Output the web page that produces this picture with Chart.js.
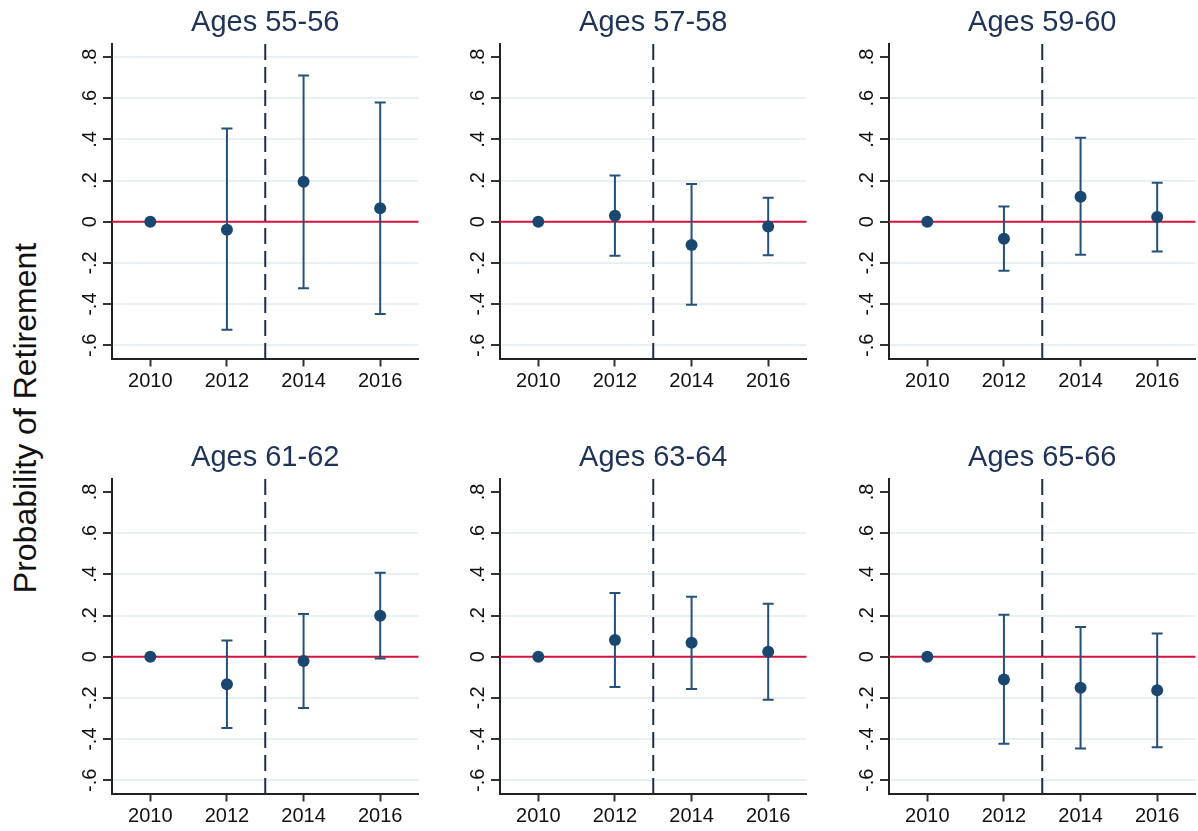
<!DOCTYPE html>
<html>
<head>
<meta charset="utf-8">
<script src="https://cdn.jsdelivr.net/npm/chart.js@4/dist/chart.umd.min.js"></script>
<style>
  html, body { margin: 0; padding: 0; background: #ffffff; }
  body { width: 1198px; height: 831px; position: relative; overflow: hidden; }
  .panel { position: absolute; }
  #ytitle {
    position: absolute; left: 25px; top: 418px;
    transform: translate(-50%, -50%) rotate(-90deg);
    font-family: "Liberation Sans", Arial, sans-serif; font-size: 32px;
    color: #111; white-space: nowrap;
  }
</style>
</head>
<body>
<div id="ytitle">Probability of Retirement</div>

<script>
// Survey waves and axis ticks
const years = [2010, 2012, 2014, 2016];
const yTickValues = [-0.6, -0.4, -0.2, 0, 0.2, 0.4, 0.6, 0.8];
const policyYear = 2013;

const panelTitles = ["Ages 55-56", "Ages 57-58", "Ages 59-60", "Ages 61-62", "Ages 63-64", "Ages 65-66"];

// Point estimates and 95% confidence bounds (2010 is the base wave)
const est_55_56 = [0, -0.039, 0.194, 0.065];
const lo_55_56  = [null, -0.524, -0.323, -0.448];
const hi_55_56  = [null, 0.453, 0.710, 0.579];

const est_57_58 = [0, 0.029, -0.113, -0.023];
const lo_57_58  = [null, -0.165, -0.403, -0.163];
const hi_57_58  = [null, 0.225, 0.183, 0.117];

const est_59_60 = [0, -0.083, 0.121, 0.023];
const lo_59_60  = [null, -0.238, -0.160, -0.144];
const hi_59_60  = [null, 0.074, 0.408, 0.189];

const est_61_62 = [0, -0.134, -0.021, 0.199];
const lo_61_62  = [null, -0.346, -0.249, -0.008];
const hi_61_62  = [null, 0.079, 0.207, 0.408];

const est_63_64 = [0, 0.081, 0.068, 0.024];
const lo_63_64  = [null, -0.147, -0.157, -0.209];
const hi_63_64  = [null, 0.309, 0.291, 0.257];

const est_65_66 = [0, -0.110, -0.150, -0.163];
const lo_65_66  = [null, -0.422, -0.445, -0.439];
const hi_65_66  = [null, 0.204, 0.144, 0.113];

const panelEst = [est_55_56, est_57_58, est_59_60, est_61_62, est_63_64, est_65_66];
const panelLo  = [lo_55_56, lo_57_58, lo_59_60, lo_61_62, lo_63_64, lo_65_66];
const panelHi  = [hi_55_56, hi_57_58, hi_59_60, hi_61_62, hi_63_64, hi_65_66];

// Styling
const FONT = '"Liberation Sans", Arial, sans-serif';
const NAVY = '#1a476f';
const BAR = '#24507a';
const RED = '#d4123e';
const DASH = '#1c2e50';
const GRID = '#e9f0f2';

// Panel placement on the page
const colLeft = [52, 440, 829];
const rowTop = [0, 435];
const CANVAS_W = 374, CANVAS_H = 396;
const Y_AXIS_W = 60, X_AXIS_H = 37.5;

function fmtTick(v) {
  if (Math.abs(v) < 1e-9) return '0';
  return v.toFixed(1).replace('0.', '.');
}

function zeroPadding(s) {
  s.paddingLeft = 0; s.paddingRight = 0; s.paddingTop = 0; s.paddingBottom = 0;
}

const refLines = {
  id: 'refLines',
  beforeDatasetsDraw(chart) {
    const {ctx, chartArea: a, scales: {x, y}} = chart;
    ctx.save();
    // zero line
    const y0 = y.getPixelForValue(0);
    ctx.strokeStyle = RED; ctx.lineWidth = 2;
    ctx.beginPath(); ctx.moveTo(a.left, y0); ctx.lineTo(a.right, y0); ctx.stroke();
    // policy change marker
    const xp = x.getPixelForValue(policyYear);
    ctx.strokeStyle = DASH; ctx.lineWidth = 2; ctx.setLineDash([16, 7]);
    ctx.beginPath(); ctx.moveTo(xp, a.top); ctx.lineTo(xp, a.bottom); ctx.stroke();
    ctx.restore();
  }
};

panelTitles.forEach((title, i) => {
  const div = document.createElement('div');
  div.className = 'panel';
  div.style.left = colLeft[i % 3] + 'px';
  div.style.top = rowTop[Math.floor(i / 3)] + 'px';
  div.style.width = CANVAS_W + 'px';
  div.style.height = CANVAS_H + 'px';
  const canvas = document.createElement('canvas');
  canvas.width = CANVAS_W; canvas.height = CANVAS_H;
  canvas.style.width = CANVAS_W + 'px'; canvas.style.height = CANVAS_H + 'px';
  div.appendChild(canvas);
  document.body.appendChild(div);

  const est = panelEst[i], lo = panelLo[i], hi = panelHi[i];

  const datasets = [{
    type: 'scatter',
    data: years.map((yr, k) => ({x: yr, y: est[k]})),
    backgroundColor: NAVY,
    borderColor: NAVY,
    pointRadius: 6,
    pointHoverRadius: 6,
    borderWidth: 0
  }];
  years.forEach((yr, k) => {
    if (lo[k] === null) return;
    datasets.push({
      type: 'line',
      data: [{x: yr, y: lo[k]}, {x: yr, y: hi[k]}],
      borderColor: BAR,
      borderWidth: 2,
      pointStyle: 'line',
      pointRadius: 5.5,
      pointHoverRadius: 5.5,
      pointBorderColor: BAR,
      pointBorderWidth: 2,
      fill: false
    });
  });

  new Chart(canvas, {
    data: { datasets },
    plugins: [refLines],
    options: {
      responsive: false,
      animation: false,
      devicePixelRatio: 1,
      layout: { padding: 0 },
      plugins: {
        legend: { display: false },
        tooltip: { enabled: false },
        title: {
          display: true,
          text: title,
          fullSize: false,
          color: '#1e3358',
          font: { family: FONT, size: 29, weight: 'normal', lineHeight: 1.2 },
          padding: { top: 5.5, bottom: 3.7 }
        }
      },
      scales: {
        x: {
          type: 'linear',
          min: 2009, max: 2017,
          afterBuildTicks: s => { s.ticks = years.map(v => ({value: v})); },
          afterFit: s => { s.height = X_AXIS_H; zeroPadding(s); },
          ticks: { color: '#111', font: { family: FONT, size: 20 }, padding: 3, maxRotation: 0,
                   callback: v => String(v) },
          grid: { drawOnChartArea: false, drawTicks: true, tickLength: 8, tickColor: '#333', tickWidth: 2 },
          border: { display: true, color: '#222', width: 2 }
        },
        y: {
          type: 'linear',
          min: -0.664, max: 0.863,
          afterBuildTicks: s => { s.ticks = yTickValues.map(v => ({value: v})); },
          afterFit: s => { s.width = Y_AXIS_W; zeroPadding(s); },
          ticks: { color: '#111', font: { family: FONT, size: 20 }, padding: 1,
                   minRotation: 90, maxRotation: 90, crossAlign: 'center',
                   callback: v => fmtTick(v) },
          grid: {
            drawOnChartArea: true, drawTicks: true, tickLength: 9, tickWidth: 2,
            tickColor: '#333', lineWidth: 2,
            color: c => {
              const v = c.tick ? c.tick.value : null;
              if (v !== null && Math.abs(v) < 1e-9) return 'rgba(0,0,0,0)';
              if (v !== null && v > 0.79 && i !== 0) return 'rgba(0,0,0,0)';
              return GRID;
            }
          },
          border: { display: true, color: '#222', width: 2 }
        }
      }
    }
  });
});
</script>
</body>
</html>
